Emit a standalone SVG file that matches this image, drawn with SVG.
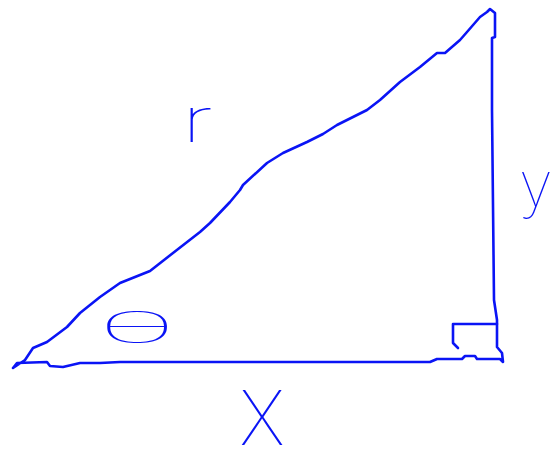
<svg xmlns="http://www.w3.org/2000/svg" width="552" height="469" viewBox="0 0 552 469">
<style>
.ln{fill:none;stroke:#0a14f5;stroke-width:2.6;stroke-linejoin:round;stroke-linecap:round}
.lb{fill:#0a14f5;font-family:"Inter","Liberation Sans",Arial,sans-serif;font-weight:100}
</style>
<rect width="552" height="469" fill="#ffffff"/>
<g id="connectors">
<path id="triangle" class="ln" d="M13,368 L25,360 L33,348 L47,342 L67,327 L80,313 L100,297 L120,283 L150,271 L173,253 L200,232 L210,223 L230,202 L240,190 L243,185 L267,163 L283,153 L307,142 L323,134 L337,125 L353,117 L367,110 L380,100 L400,82 L420,67 L437,53 L445,53 L460,40 L467,32 L480,17 L487,12 L490,9 L495,13 L495,37 L492,38 L492,110 L494,300 L497,320 L497,347 L502,353 L503,362 L500,359 L477,359 L475,356 L465,356 L462,359 L437,359 L430,362 L120,362 L100,363 L80,363 L63,367 L50,366 L47,362 L17,363 Z"/>
<path id="right-angle" class="ln" d="M497,324 H453 V343 L458,348"/>
</g>
<g id="label-r"><text class="lb" font-size="62" transform="translate(181,142) scale(1.6,1)">r</text></g>
<g id="label-theta"><text class="lb" font-size="44" text-anchor="middle" transform="translate(137,343) scale(3,1)">θ</text></g>
<g id="label-x"><text class="lb" font-size="88" text-anchor="middle" transform="translate(262,445) scale(1.05,1.15)">x</text></g>
<g id="label-y"><text class="lb" font-size="62" transform="translate(519,206)">y</text></g>
</svg>
